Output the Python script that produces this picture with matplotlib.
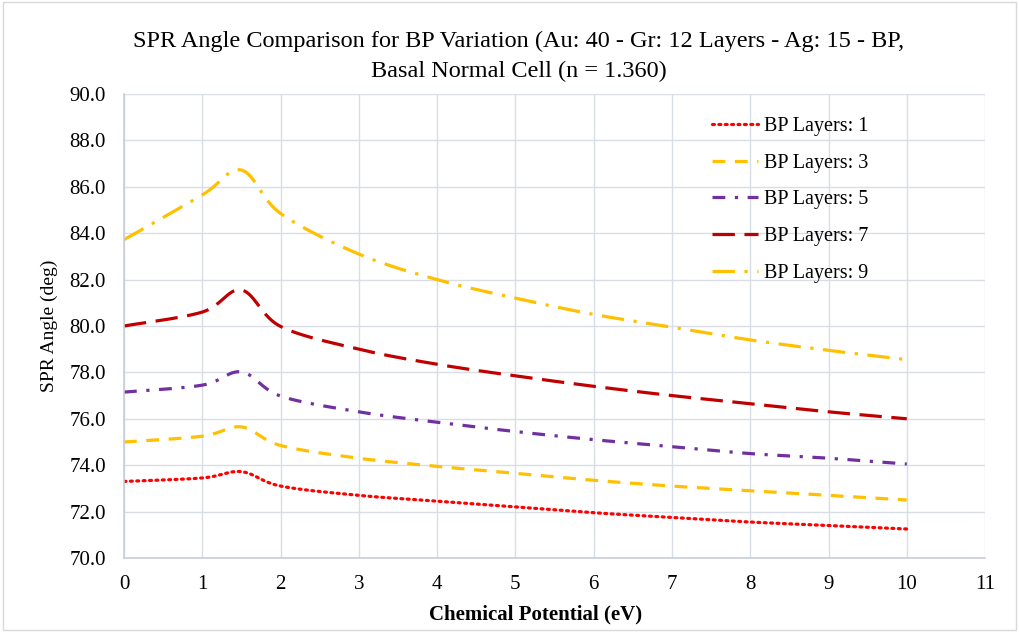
import numpy as np
import matplotlib.pyplot as plt

# chemical potential (eV)
mu = [0, 1, 1.5, 2, 3, 4, 5, 6, 7, 8, 9, 10]

# SPR angle (deg) for each BP layer count
bp1 = [73.3, 73.45, 73.72, 73.1, 72.7, 72.45, 72.2, 71.95, 71.75, 71.55, 71.4, 71.25]
bp3 = [75.0, 75.25, 75.65, 74.85, 74.3, 73.95, 73.65, 73.35, 73.1, 72.9, 72.7, 72.5]
bp5 = [77.15, 77.45, 78.02, 76.98, 76.3, 75.85, 75.45, 75.1, 74.8, 74.5, 74.3, 74.05]
bp7 = [80.0, 80.6, 81.55, 79.98, 79.0, 78.35, 77.85, 77.4, 77.0, 76.65, 76.3, 76.0]
bp9 = [83.72, 85.65, 86.72, 84.85, 83.1, 82.0, 81.2, 80.5, 79.95, 79.4, 78.95, 78.55]

labels = ["BP Layers: 1", "BP Layers: 3", "BP Layers: 5", "BP Layers: 7", "BP Layers: 9"]
colors = ["#FF0000", "#FFC000", "#7030A0", "#C00000", "#FFC000"]
dashes = [(0.6, 1.4), (4, 3), (4, 3, 1, 3), (7, 3), (7, 3, 1, 3)]


def smooth(x, y, n=30, t=1 / 6):
    # excel-like smoothed line (bezier through points)
    x = np.asarray(x, float)
    y = np.asarray(y, float)
    xs, ys = [], []
    for i in range(len(x) - 1):
        p0 = np.array([x[max(i - 1, 0)], y[max(i - 1, 0)]])
        p1 = np.array([x[i], y[i]])
        p2 = np.array([x[i + 1], y[i + 1]])
        p3 = np.array([x[min(i + 2, len(x) - 1)], y[min(i + 2, len(x) - 1)]])
        c1 = p1 + (p2 - p0) * t
        c2 = p2 - (p3 - p1) * t
        s = np.linspace(0, 1, n)[:, None]
        b = (1 - s) ** 3 * p1 + 3 * (1 - s) ** 2 * s * c1 + 3 * (1 - s) * s ** 2 * c2 + s ** 3 * p2
        xs.extend(b[:, 0])
        ys.extend(b[:, 1])
    return xs, ys


plt.rcParams['font.family'] = ['Liberation Serif', 'DejaVu Serif']

fig = plt.figure(figsize=(10.19, 6.32), dpi=100)
ax = fig.add_axes([0.1217, 0.1171, 0.845, 0.7342])

for y, lab, c, d in zip([bp1, bp3, bp5, bp7, bp9], labels, colors, dashes):
    xs, ys = smooth(mu, y)
    line, = ax.plot(xs, ys, color=c, lw=2.3, label=lab)
    line.set_dashes(d)
    if d[0] < 1:
        line.set_dash_capstyle('round')

ax.set_xlim(0, 11)
ax.set_ylim(70, 90)
ax.set_xticks(range(0, 12))
ax.set_yticks(np.arange(70, 90.1, 2))
ax.set_yticklabels([f"{v:.1f}" for v in np.arange(70, 90.1, 2)])
ax.tick_params(axis="y", length=0, labelsize=15, pad=13)
ax.tick_params(axis="x", length=0, labelsize=15, pad=12)
ax.grid(True, color="#D9DEE6", lw=1)
ax.set_axisbelow(True)
for s in ["top", "right"]:
    ax.spines[s].set_visible(False)
ax.spines["left"].set_color("#C8CED8")
ax.spines["bottom"].set_color("#C8CED8")
ax.spines["left"].set_linewidth(1.2)
ax.spines["bottom"].set_linewidth(1.2)

ax.set_xlabel("Chemical Potential (eV)", fontsize=15, fontweight="bold")
ax.set_ylabel("SPR Angle (deg)", fontsize=14)
ax.xaxis.set_label_coords(0.478, -0.101)
ax.yaxis.set_label_coords(-0.077, 0.5)

fig.text(0.509, 0.9106,
         "SPR Angle Comparison for BP Variation (Au: 40 - Gr: 12 Layers - Ag: 15 - BP,\nBasal Normal Cell (n = 1.360)",
         fontsize=17.5, ha="center", va="center", linespacing=1.5)

ax.legend(loc="upper left", bbox_to_anchor=(0.662, 0.99), frameon=False, fontsize=14.5,
          handlelength=2.3, handletextpad=0.25, labelspacing=0.88)

fig.patches.append(plt.Rectangle((0.003, 0.003), 0.994, 0.994, transform=fig.transFigure,
                                 fill=False, edgecolor="#D9D9D9", lw=1))

plt.savefig("out.png", dpi=100)
